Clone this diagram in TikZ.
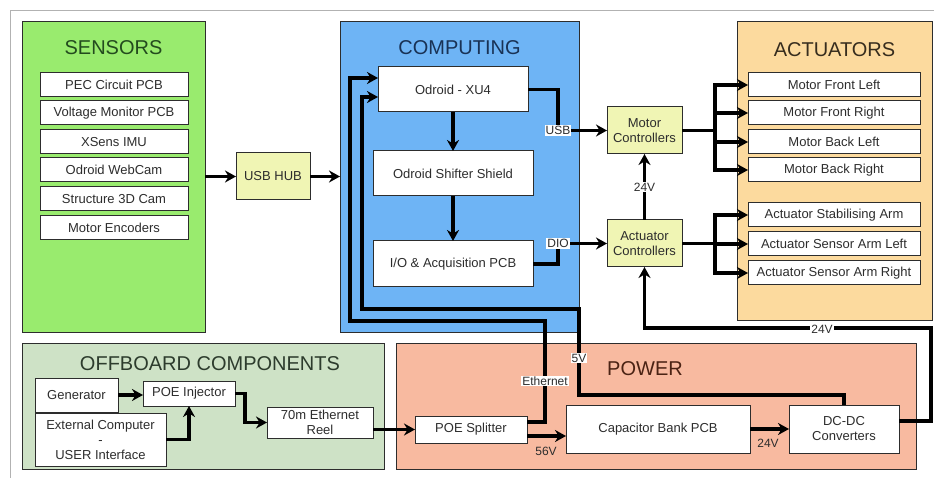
\documentclass[tikz,border=0pt]{standalone}
\usepackage{fontspec}
\setmainfont{Liberation Sans}
\usetikzlibrary{arrows.meta,calc}
\definecolor{SensClr}{RGB}{153,235,110}
\definecolor{CompClr}{RGB}{110,180,245}
\definecolor{ActClr}{RGB}{252,218,158}
\definecolor{OffClr}{RGB}{206,226,198}
\definecolor{PwrClr}{RGB}{248,186,160}
\definecolor{CtrlClr}{RGB}{240,245,180}
\definecolor{EdgeClr}{RGB}{45,45,45}
\definecolor{TextClr}{RGB}{45,45,45}
\definecolor{SensTxt}{RGB}{35,75,30}
\definecolor{CompTxt}{RGB}{25,50,85}
\definecolor{ActTxt}{RGB}{55,45,30}
\definecolor{OffTxt}{RGB}{45,60,45}
\definecolor{PwrTxt}{RGB}{75,35,20}

\begin{document}
\begin{tikzpicture}[x=1pt,y=-1pt,
  group/.style={draw=EdgeClr,line width=1pt,inner sep=0pt,outer sep=0pt},
  title/.style={font=\fontsize{20}{22}\selectfont},
  box/.style={draw=EdgeClr,line width=1pt,fill=white,inner sep=0pt,outer sep=0pt,
    font=\fontsize{13}{15}\selectfont,text=TextClr,align=center},
  sens/.style={box,minimum width=148pt,minimum height=24pt},
  act/.style={box,minimum width=172pt,minimum height=24pt},
  ctrl/.style={box,fill=CtrlClr,minimum width=75pt,minimum height=47pt},
  tag/.style={fill=white,inner sep=1pt,font=\fontsize{12}{14}\selectfont,text=TextClr},
  wire/.style={line width=3.2pt,black},
  flow/.style={wire,-{Stealth[length=11pt,width=12pt]}}]
\useasboundingbox (0,0) rectangle (934,478);
\draw[gray!60,line width=0.8pt] (10,478) -- (10,10) -- (934,10);

\node[group,fill=SensClr,minimum width=183pt,minimum height=310pt] (sensors) at (113.5,177) {};
\node[group,fill=CompClr,minimum width=239pt,minimum height=310pt] (computing) at (459.5,177) {};
\node[group,fill=ActClr,minimum width=195pt,minimum height=298pt] (actuators) at (834.5,171) {};
\node[group,fill=OffClr,minimum width=362pt,minimum height=126pt] (offboard) at (203,406) {};
\node[group,fill=PwrClr,minimum width=520pt,minimum height=126pt] (power) at (656,406) {};

\node[title,text=SensTxt] (sensorstitle) at (113.5,48) {SENSORS};
\node[title,text=CompTxt] (computingtitle) at (459.5,48) {COMPUTING};
\node[title,text=ActTxt] (actuatorstitle) at (834.5,50) {ACTUATORS};
\node[title,text=OffTxt] (offboardtitle) at (210,364) {OFFBOARD COMPONENTS};
\node[title,text=PwrTxt] (powertitle) at (645,369) {POWER};

\node[sens] (pec) at (114,85) {PEC Circuit PCB};
\node[sens] (voltmon) at (114,113) {Voltage Monitor PCB};
\node[sens] (imu) at (114,142) {XSens IMU};
\node[sens] (webcam) at (114,170) {Odroid WebCam};
\node[sens] (cam3d) at (114,199) {Structure 3D Cam};
\node[sens] (encoders) at (114,228) {Motor Encoders};

\node[box,fill=CtrlClr,minimum width=74pt,minimum height=47pt] (usbhub) at (273,176.5) {USB HUB};

\node[box,minimum width=150pt,minimum height=45pt] (odroid) at (453,89.5) {Odroid - XU4};
\node[box,minimum width=160pt,minimum height=45pt] (shifter) at (453,173.5) {Odroid Shifter Shield};
\node[box,minimum width=160pt,minimum height=46pt] (iopcb) at (453,264) {I/O \& Acquisition PCB};

\node[ctrl] (motorctrl) at (644.5,130.5) {Motor\\Controllers};
\node[ctrl] (actctrl) at (644.5,243.5) {Actuator\\Controllers};

\node[act] (mfl) at (834,85) {Motor Front Left};
\node[act] (mfr) at (834,113) {Motor Front Right};
\node[act] (mbl) at (834,142) {Motor Back Left};
\node[act] (mbr) at (834,170) {Motor Back Right};
\node[act] (stabarm) at (834,215) {Actuator Stabilising Arm};
\node[act] (armleft) at (834,244) {Actuator Sensor Arm Left};
\node[act] (armright) at (834,273) {Actuator Sensor Arm Right};

\node[box,minimum width=83pt,minimum height=34pt] (generator) at (76.5,395) {Generator};
\node[box,minimum width=92pt,minimum height=25pt] (injector) at (189,393.5) {POE Injector};
\node[box,minimum width=131pt,minimum height=53pt] (extpc) at (100.5,439.5) {External Computer\\-\\USER Interface};
\node[box,minimum width=106pt,minimum height=31pt] (reel) at (320,422.5) {70m Ethernet\\Reel};

\node[box,minimum width=112pt,minimum height=27pt] (splitter) at (471,429.5) {POE Splitter};
\node[box,minimum width=184pt,minimum height=48pt] (capbank) at (658,429) {Capacitor Bank PCB};
\node[box,minimum width=110pt,minimum height=48pt] (dcdc) at (844,429) {DC-DC\\Converters};

\coordinate (usbbend) at (558,130.5);
\coordinate (diobend) at (558,243.5);
\coordinate (mfork) at (715,130.5);
\coordinate (afork) at (715,243.5);
\coordinate (ethup) at (545,321);
\coordinate (ethleft) at (350,78);
\coordinate (fiveup) at (579,395);
\coordinate (fiveleft) at (362,309);
\coordinate (rightup) at (931,328);
\coordinate (ethout) at ($(splitter.east)+(0,-7.5)$);
\coordinate (hvout) at ($(splitter.east)+(0,6.5)$);
\coordinate (dcout) at ($(dcdc.east)+(0,-8)$);

\draw[flow] (sensors.east |- usbhub.west) -- (usbhub.west);
\draw[flow] (usbhub.east) -- (usbhub.east -| computing.west);
\draw[flow] (odroid.south) -- (shifter.north);
\draw[flow] (shifter.south) -- (iopcb.north);
\draw[flow] (odroid.east) -| (usbbend) -- (motorctrl.west);
\draw[flow] (iopcb.east) -| (diobend) -- (actctrl.west);
\draw[flow] (actctrl.north) -- (motorctrl.south);
\draw[wire] (motorctrl.east) -- (mfork);
\draw[wire] (actctrl.east) -- (afork);
\draw[flow] (mfork) |- (mfl.west);
\draw[flow] (mfork) |- (mfr.west);
\draw[flow] (mfork) |- (mbl.west);
\draw[flow] (mfork) |- (mbr.west);
\draw[flow] (afork) |- (stabarm.west);
\draw[flow] (afork) |- (armleft.west);
\draw[flow] (afork) |- (armright.west);

\draw[flow] (generator.east) -- (generator.east -| injector.west);
\draw[flow] (extpc.east) -| (injector.south);
\draw[flow] (injector.east) -- ++(10,0) |- (reel.west);
\draw[flow] (reel.east |- splitter.west) -- (splitter.west);
\draw[flow] (hvout) -- (hvout -| capbank.west);
\draw[flow] (capbank.east) -- (dcdc.west);
\draw[flow] (ethout) -| (ethup) -| (ethleft) -- (ethleft -| odroid.west);
\draw[flow] (dcdc.north) |- (fiveup) |- (fiveleft) |- ($(odroid.west)+(0,7.5)$);
\draw[flow] (dcout) -| (rightup) -| (actctrl.south);

\node[tag] (usbtag) at (usbbend) {USB};
\node[tag] (diotag) at (diobend) {DIO};
\node[tag] (ctrl24tag) at (644.5,187) {24V};
\node[tag] (act24tag) at (822,329) {24V};
\node[tag] (ethtag) at (545,381) {Ethernet};
\node[tag] (fivetag) at (579,358) {5V};
\node[tag,fill=none] (hvtag) at (546,451) {56V};
\node[tag,fill=none] (cap24tag) at (768,443) {24V};
\end{tikzpicture}
\end{document}
